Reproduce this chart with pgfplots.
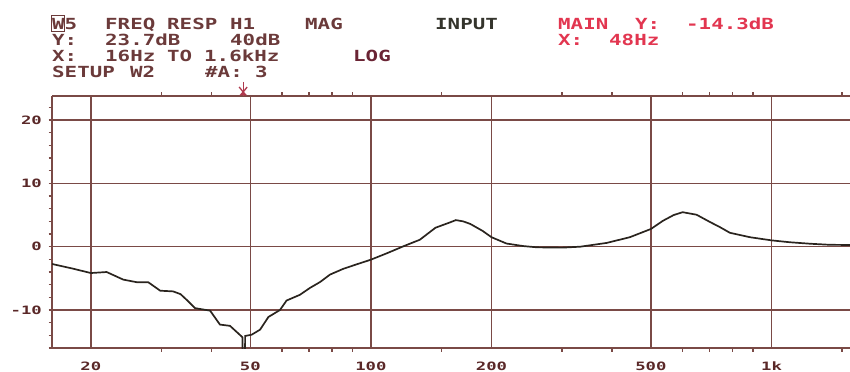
\documentclass[border=0pt]{standalone}
\usepackage{pgfplots}
\pgfplotsset{compat=1.18}
\usepackage{fontspec}
\newfontfamily\hdfont[FakeStretch=1.36]{DejaVu Sans Mono}
\newfontfamily\tkfont[FakeStretch=1.5]{DejaVu Sans Mono}

\definecolor{hdbrown}{HTML}{6B3A3A}
\definecolor{logc}{HTML}{6A2434}
\definecolor{inputc}{HTML}{34342C}
\definecolor{redc}{HTML}{E23650}
\definecolor{markc}{HTML}{B03A4E}
\definecolor{gridc}{HTML}{7A4A46}
\definecolor{curvec}{HTML}{2A241E}
\definecolor{tickc}{HTML}{5A2828}

% header text: x, baseline y (pixels from top left), colour, text
\newcommand{\hd}[4]{\node[anchor=base west, inner sep=0pt, text=#3,
  font=\fontsize{15.3bp}{18bp}\hdfont\bfseries] at (#1bp,-#2bp) {#4};}

\begin{document}
\begin{tikzpicture}
\useasboundingbox (0,0) rectangle (850bp,-372bp);

\hd{52}{29.5}{hdbrown}{W5}
\draw[hdbrown, line width=1bp] (51.5bp,-15bp) rectangle (64bp,-31.5bp);
\hd{105}{29.5}{hdbrown}{FREQ}
\hd{167}{29.5}{hdbrown}{RESP}
\hd{230}{29.5}{hdbrown}{H1}
\hd{305}{29.5}{hdbrown}{MAG}
\hd{435}{29.5}{inputc}{INPUT}
\hd{558}{29.5}{redc}{MAIN}
\hd{635}{29.5}{redc}{Y:}
\hd{686}{29.5}{redc}{-14.3dB}

\hd{52}{45}{hdbrown}{Y:}
\hd{105}{45}{hdbrown}{23.7dB}
\hd{230}{45}{hdbrown}{40dB}
\hd{558}{45}{redc}{X:}
\hd{609}{45}{redc}{48Hz}

\hd{52}{61.5}{hdbrown}{X:}
\hd{105}{61.5}{hdbrown}{16Hz}
\hd{167}{61.5}{hdbrown}{TO}
\hd{204}{61.5}{hdbrown}{1.6kHz}
\hd{353}{61.5}{logc}{LOG}

\hd{52}{77}{hdbrown}{SETUP}
\hd{130}{77}{hdbrown}{W2}
\hd{205}{77}{hdbrown}{\#A:}
\hd{255}{77}{hdbrown}{3}

\begin{axis}[
  at={(52bp,-348bp)}, anchor=south west,
  scale only axis, width=798bp, height=252bp,
  xmode=log, xmin=16, xmax=1570,
  ymin=-16, ymax=23.8,
  separate axis lines,
  axis x line*=box, axis y line*=left,
  axis line style={gridc, line width=1.5bp},
  xtick={20,50,100,200,500,1000},
  xticklabels={20,50,100,200,500,1k},
  minor xtick={30,40,60,70,80,90,150,300,400,600,700,800,900,1500},
  ytick={-10,0,10,20},
  yticklabels={-10,0,10,20},
  minor ytick={-16,-14,...,22},
  grid=major,
  major grid style={gridc, line width=1.5bp},
  major tick length=0pt, minor tick length=3.5bp,
  tick align=outside,
  tick style={gridc, line width=1.5bp},
  ticklabel style={font=\fontsize{11.5bp}{13bp}\tkfont\bfseries, text=tickc},
  xticklabel style={anchor=base, yshift=-22bp},
  yticklabel style={anchor=east, inner sep=0pt, xshift=-10bp},
  clip mode=individual,
]
\addplot[curvec, line width=1.7bp] coordinates {
  (16,-2.73) (18,-3.45) (20,-4.16) (21.9,-4.0) (24.1,-5.2) (26.0,-5.6)
  (27.8,-5.6) (29.8,-6.95) (32.1,-7.06) (33.5,-7.5) (34.7,-8.4)
  (36.4,-9.7) (39.7,-10.1) (42.0,-12.3) (44.5,-12.5) (47.8,-14.3)
  (47.85,-18) (48.5,-18) (48.55,-14.1) (50.4,-13.9) (52.9,-13.1)
  (55.5,-11.1) (59.3,-10.0) (61.6,-8.5) (66.5,-7.6) (70.5,-6.5)
  (74.6,-5.6) (79.1,-4.4) (85.3,-3.5) (92,-2.8) (100,-2.05)
  (110,-1.0) (120.4,0.05) (132.5,1.1) (145,3.0) (157,3.8) (163,4.2)
  (170,4.0) (177,3.6) (190,2.5) (200,1.5) (218,0.5) (240,0.1)
  (260,-0.1) (300,-0.15) (333,0.0) (388,0.6) (443,1.5) (500,2.8)
  (536,4.1) (570,5.0) (600,5.45) (650,5.05) (702,3.9) (743,3.1)
  (787,2.2) (883,1.5) (1000,1.0) (1112,0.7) (1247,0.47) (1398,0.3)
  (1570,0.27)
};
\draw[markc, line width=1.3bp] ([yshift=14bp]axis cs:48,23.8) -- (axis cs:48,23.8);
\draw[markc, line width=1.3bp] ([xshift=-4bp,yshift=9bp]axis cs:48,23.8)
  -- ([yshift=4bp]axis cs:48,23.8) -- ([xshift=4bp,yshift=9bp]axis cs:48,23.8);
\fill[markc] ([xshift=-4bp,yshift=0.5bp]axis cs:48,23.8) -- ([xshift=4bp,yshift=0.5bp]axis cs:48,23.8)
  -- ([yshift=5bp]axis cs:48,23.8) -- cycle;
\end{axis}
\end{tikzpicture}
\end{document}
